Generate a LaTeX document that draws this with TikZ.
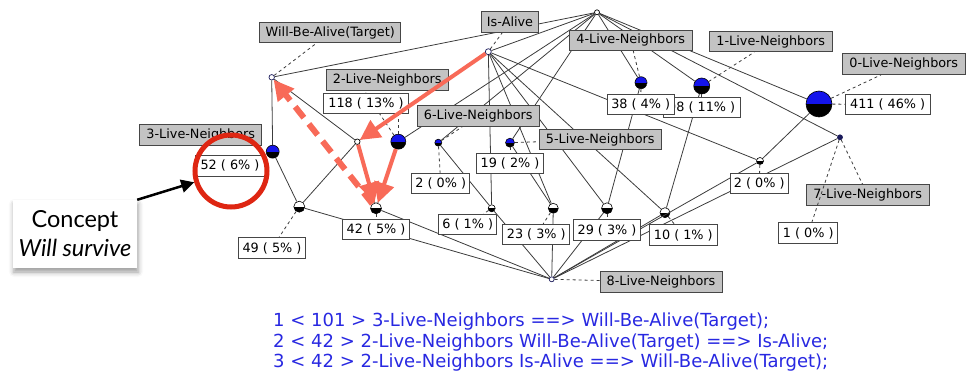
\documentclass[tikz,border=0pt]{standalone}
\usepackage{fontspec}
\setmainfont{DejaVu Sans}
\newfontfamily\notefont{Lato}
\usetikzlibrary{arrows.meta,shadows.blur}

\definecolor{edgegray}{RGB}{60,60,60}
\definecolor{tagfill}{RGB}{195,195,195}
\definecolor{tagline}{RGB}{70,70,70}
\definecolor{conceptblue}{RGB}{20,20,235}
\definecolor{navy}{RGB}{25,25,90}
\definecolor{ruleblue}{RGB}{40,40,225}
\definecolor{hint}{RGB}{248,106,88}
\definecolor{ring}{RGB}{222,38,18}

\tikzset{
  attrbox/.style={draw=tagline, fill=tagfill, line width=0.9pt, inner xsep=1pt, inner ysep=0pt,
                  minimum height=20.5pt, font=\fontsize{12.8}{14}\selectfont},
  numbox/.style={attrbox, fill=white},
  latedge/.style={draw=edgegray, line width=0.8pt},
  labellink/.style={draw=edgegray, line width=0.8pt, dash pattern=on 3pt off 3pt},
  smalldot/.style={circle, draw=navy, line width=0.7pt, fill=white, inner sep=0pt, minimum size=#1},
  halfdisc/.style 2 args={circle, draw=black, line width=0.6pt, inner sep=0pt, minimum size=#1,
     path picture={
       \fill[#2] (path picture bounding box.west) rectangle (path picture bounding box.north east);
       \fill[black] (path picture bounding box.south west) rectangle (path picture bounding box.east);}},
  blueconcept/.style={halfdisc={#1}{conceptblue}},
  whiteconcept/.style={halfdisc={#1}{white}},
  hintline/.style={draw=hint, line width=4pt, -{Triangle[length=20pt,width=20pt]}},
  ruletext/.style={text=ruleblue, anchor=base west, inner sep=0pt, font=\fontsize{18}{20}\selectfont},
}

\begin{document}
\begin{tikzpicture}[x=1pt,y=-1pt]
\useasboundingbox (0,0) rectangle (970,379);

% concepts of the lattice
\node[smalldot=5pt, draw=black] (top) at (597,12.3) {};
\node[smalldot=6pt] (alive) at (488.3,51.7) {};
\node[smalldot=5.5pt] (wba) at (271.7,77.3) {};
\node[smalldot=5.5pt, draw=black] (pair) at (357.3,141.7) {};
\node[blueconcept=13pt] (n3) at (272.7,151.7) {};
\node[blueconcept=15pt] (n2) at (398.3,141.7) {};
\node[blueconcept=7pt] (n6) at (438.3,142.7) {};
\node[blueconcept=9pt] (n5) at (510,142.7) {};
\node[blueconcept=12pt] (n4) at (641,82.7) {};
\node[blueconcept=16pt] (n1) at (701.7,86) {};
\node[blueconcept=26pt] (n0) at (819,104) {};
\node[smalldot=5pt, fill=navy] (n7) at (840,137.3) {};
\node[whiteconcept=7pt] (b) at (760,161) {};
\node[whiteconcept=10pt] (c) at (665,212.7) {};
\node[whiteconcept=11pt] (d) at (607,208.3) {};
\node[whiteconcept=10pt] (e) at (553.3,208.3) {};
\node[whiteconcept=7pt] (f) at (491.7,208.3) {};
\node[whiteconcept=11pt] (g) at (376,208.3) {};
\node[whiteconcept=11pt] (h) at (299.3,206.7) {};
\node[smalldot=5pt] (bot) at (551.7,279.3) {};

% cover relation
\foreach \u/\v in {top/wba, top/alive, top/n2, top/n6, top/n5, top/n4, top/n1, top/n0, top/n7,
                   wba/n3, wba/pair, alive/pair, alive/f, alive/e, alive/d, alive/c, alive/b,
                   n3/h, pair/h, pair/g, n2/g, n6/f, n5/e, n4/d, n1/c, n0/b,
                   h/bot, g/bot, f/bot, e/bot, d/bot, c/bot, b/bot, n7/bot}
  \draw[latedge] (\u) -- (\v);

% attribute names and extent sizes
\node[attrbox, minimum width=122pt] (n2T) at (387.2,80) {2-Live-Neighbors};
\draw[labellink] (n2) -- (n2T.205);
\node[numbox, minimum width=85pt]   (n2C) at (366,103.7) {118 ( 13\% )};
\node[attrbox, minimum width=141pt] (wbaT) at (330.3,32.7) {Will-Be-Alive(Target)};
\node[attrbox, minimum width=57pt]  (aliveT) at (510,22.2) {Is-Alive};
\node[attrbox, minimum width=123pt] (n4T) at (630.7,40.3) {4-Live-Neighbors};
\node[attrbox, minimum width=123pt] (n1T) at (770.8,41.5) {1-Live-Neighbors};
\node[attrbox, minimum width=123pt] (n0T) at (903.8,64.2) {0-Live-Neighbors};
\node[numbox, minimum width=85pt]   (n0C) at (887.7,104.5) {411 ( 46\% )};
\node[attrbox, minimum width=122pt] (n3T) at (200.8,135) {3-Live-Neighbors};
\node[numbox, minimum width=70pt]   (n3C) at (230,165.8) {52 ( 6\% )};
\node[numbox, minimum width=66.5pt] (hC) at (272,248) {49 ( 5\% )};
\node[attrbox, minimum width=122pt] (n6T) at (478.3,116.2) {6-Live-Neighbors};
\node[attrbox, minimum width=122pt] (n5T) at (600.2,139.7) {5-Live-Neighbors};
\node[numbox, minimum width=77pt]   (n1C) at (701.7,107.5) {98 ( 11\% )};
\node[numbox, minimum width=67pt]   (n4C) at (640.7,104.5) {38 ( 4\% )};
\node[numbox, minimum width=58pt]   (n6C) at (440.8,183.3) {2 ( 0\% )};
\node[numbox, minimum width=67pt]   (n5C) at (510,163.3) {19 ( 2\% )};
\node[numbox, minimum width=58pt]   (fC) at (467.8,224.5) {6 ( 1\% )};
\node[numbox, minimum width=67pt]   (eC) at (536.3,234.5) {23 ( 3\% )};
\node[numbox, minimum width=67pt]   (dC) at (607,230) {29 ( 3\% )};
\node[numbox, minimum width=67pt]   (gC) at (376,229.7) {42 ( 5\% )};
\node[numbox, minimum width=68pt]   (cC) at (683.3,235) {10 ( 1\% )};
\node[numbox, minimum width=58pt]   (bC) at (759.2,183.7) {2 ( 0\% )};
\node[attrbox, minimum width=123pt] (n7T) at (867.7,195) {7-Live-Neighbors};
\node[numbox, minimum width=59pt]   (n7C) at (808.3,233) {1 ( 0\% )};
\node[attrbox, minimum width=122pt] (botT) at (661,282) {8-Live-Neighbors};

% labels attached to their concepts
\draw[labellink] (n2) -- (n2C.south -| n2);
\draw[labellink] (wba) -- (wbaT);
\draw[labellink] (alive) -- (aliveT);
\draw[labellink] (n4) -- (n4T);
\draw[labellink] (n4) -- (n4C);
\draw[labellink] (n1) -- (n1T);
\draw[labellink] (n1) -- (n1C);
\draw[labellink] (n0) -- (n0T);
\draw[labellink] (n0) -- (n0C);
\draw[labellink] (n6) -- (n6T);
\draw[labellink] (n6) -- (n6C);
\draw[labellink] (n5) -- (n5T);
\draw[labellink] (n5) -- (n5C);
\draw[labellink] (n7) -- (n7T);
\draw[labellink] (n7) -- (n7C);
\draw[labellink] (h) -- (hC);
\draw[labellink] (bot) -- (botT);
\draw[labellink] (b) -- (bC);
\draw[labellink] (c) -- (cC);
\draw[labellink] (d) -- (dC);
\draw[labellink] (e) -- (eC);
\draw[labellink] (f) -- (fC);
\draw[labellink] (g) -- (gC);

% association rules
\node[ruletext] (r1) at (273,327) {1 < 101 > 3-Live-Neighbors ==> Will-Be-Alive(Target);};
\node[ruletext] (r2) at (273,348) {2 < 42 > 2-Live-Neighbors Will-Be-Alive(Target) ==> Is-Alive;};
\node[ruletext] (r3) at (273,368) {3 < 42 > 2-Live-Neighbors Is-Alive ==> Will-Be-Alive(Target);};

% annotation
\node[circle, draw=ring, line width=5pt, minimum size=72pt] (ring) at (231,171) {};
\node[fill=white, blur shadow={shadow xshift=1pt, shadow yshift=-4pt, shadow blur radius=5pt},
      minimum width=124pt, minimum height=68pt, align=center, inner sep=0pt,
      font=\notefont\fontsize{23.5}{29}\selectfont] (note) at (75,234) {Concept\\\textit{Will survive}};
\draw[line width=2.5pt, -{Triangle[length=13pt,width=13pt]}] (note.north east) -- (ring.197);

% reading of the rules along the lattice
\draw[hintline] (alive) -- (pair);
\draw[hintline] (pair) -- (g);
\draw[hintline] (n2) -- (g);
\draw[hintline, line width=6pt, dash pattern=on 14pt off 8pt] (g) -- (wba);
\end{tikzpicture}
\end{document}
